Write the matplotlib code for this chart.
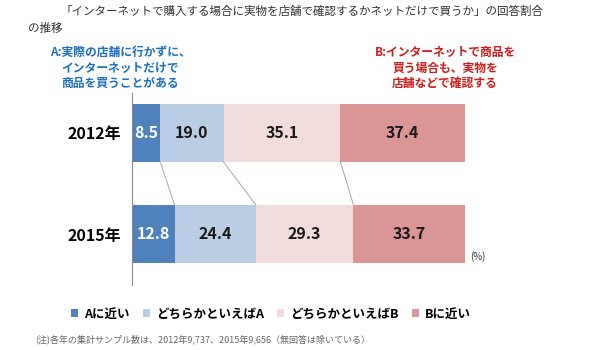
import numpy as np
import matplotlib.pyplot as plt
from matplotlib.patches import Patch

plt.rcParams['font.family'] = ['Noto Sans CJK JP', 'DejaVu Sans']

years = ['2012年', '2015年']
categories = ['Aに近い', 'どちらかといえばA', 'どちらかといえばB', 'Bに近い']
values = np.array([
	[8.5, 19.0, 35.1, 37.4],
	[12.8, 24.4, 29.3, 33.7],
])
colors = ['#4f81bd', '#b9cde5', '#f2dcdb', '#d99694']
label_colors = ['white', '#1a1a1a', '#1a1a1a', '#1a1a1a']

title = '「インターネットで購入する場合に実物を店舗で確認するかネットだけで買うか」の回答割合'
title2 = 'の推移'
note_a = 'A:実際の店舗に行かずに、\nインターネットだけで\n商品を買うことがある'
note_b = 'B:インターネットで商品を\n買う場合も、実物を\n店舗などで確認する'
footnote = '(注)各年の集計サンプル数は、2012年9,737、2015年9,656（無回答は除いている）'

fig = plt.figure(figsize=(6, 3.5), dpi=100)
ax = fig.add_axes([132 / 600, 65 / 350, 333 / 600, 192 / 350])

bar_h = 0.575
y = np.arange(len(years))
left = np.zeros(len(years))
for j, cat in enumerate(categories):
	ax.barh(y, values[:, j], left=left, height=bar_h, color=colors[j], edgecolor='none')
	for i in range(len(years)):
		ax.text(left[i] + values[i, j] / 2, y[i], f'{values[i, j]:.1f}',
				ha='center', va='center', fontsize=11.5, fontweight='bold',
				color=label_colors[j])
	left += values[:, j]

# connector lines between the two bars
cum = np.cumsum(values, axis=1)
for j in range(len(categories) - 1):
	ax.plot([cum[0, j], cum[1, j]], [y[0] + bar_h / 2, y[1] - bar_h / 2],
			color='#a6a6a6', lw=0.7)

ax.set_xlim(0, 100)
ax.set_ylim(1 + 51 / 101, -40 / 101)
ax.set_xticks([])
ax.set_yticks(y)
ax.set_yticklabels(years, fontsize=11.5, fontweight='bold')
ax.tick_params(axis='y', length=0, pad=8)
for s in ['top', 'right', 'bottom']:
	ax.spines[s].set_visible(False)
ax.spines['left'].set_color('#8c8c8c')
ax.spines['left'].set_linewidth(0.8)

ax.text(101.5, 1.22, '(%)', fontsize=7, color='#333333', va='center')

fig.text(60 / 600, 1 - 11 / 350, title, fontsize=8.3, color='#333333', va='center')
fig.text(28 / 600, 1 - 28 / 350, title2, fontsize=8.3, color='#333333', va='center')
fig.text(120 / 600, 1 - 68 / 350, note_a, fontsize=8.5, fontweight='bold',
		 color='#1f6fbf', ha='center', va='center', linespacing=1.25)
fig.text(445 / 600, 1 - 68 / 350, note_b, fontsize=8.5, fontweight='bold',
		 color='#d01c1c', ha='center', va='center', linespacing=1.25)

handles = [Patch(facecolor=c, edgecolor='none') for c in colors]
fig.legend(handles, categories, ncol=4, loc='center', bbox_to_anchor=(271 / 600, 1 - 314 / 350),
		   frameon=False, prop={'size': 9, 'weight': 'bold'},
		   handlelength=0.6, handleheight=0.6, handletextpad=0.5, columnspacing=1.0)

fig.text(35 / 600, 1 - 339 / 350, footnote, fontsize=6.5, color='#666666', va='center')

fig.savefig('out.png', dpi=100)
